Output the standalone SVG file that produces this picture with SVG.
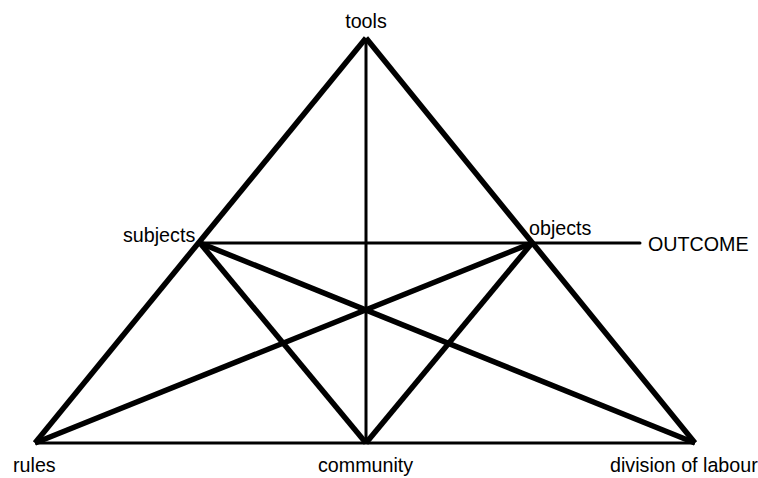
<svg xmlns="http://www.w3.org/2000/svg" width="758" height="478" viewBox="0 0 758 478">
<style>
.thick{stroke:#000;stroke-width:5.5;fill:none;stroke-linejoin:miter;stroke-linecap:butt}
.thin{stroke:#000;stroke-width:3;fill:none}
.lbl{font-family:"Liberation Sans",Arial,sans-serif;font-size:19.7px;fill:#000}
</style>
<rect width="758" height="478" fill="#fff"/>
<g id="connectors">
<line class="thick" x1="366" y1="38" x2="35" y2="443"/>
<line class="thick" x1="366" y1="38" x2="695" y2="443"/>
<line class="thin" x1="366" y1="38" x2="366" y2="443"/>
<line class="thin" x1="35" y1="443" x2="695" y2="443"/>
<line class="thin" x1="200" y1="243" x2="532" y2="243"/>
<line class="thick" x1="200" y1="243" x2="366" y2="443"/>
<line class="thick" x1="532" y1="243" x2="366" y2="443"/>
<line class="thick" x1="200" y1="243" x2="695" y2="443"/>
<line class="thick" x1="532" y1="243" x2="35" y2="443"/>
<line class="thin" x1="532" y1="243" x2="640" y2="243" stroke-linecap="round"/>
</g>
<g id="tools"><text class="lbl" x="366" y="28" text-anchor="middle">tools</text></g>
<g id="subjects"><text class="lbl" x="123" y="242">subjects</text></g>
<g id="objects"><text class="lbl" x="529" y="235">objects</text></g>
<g id="outcome"><text class="lbl" x="648" y="251">OUTCOME</text></g>
<g id="rules"><text class="lbl" x="13" y="472">rules</text></g>
<g id="community"><text class="lbl" x="318" y="472">community</text></g>
<g id="division"><text class="lbl" x="610" y="472">division of labour</text></g>
</svg>
